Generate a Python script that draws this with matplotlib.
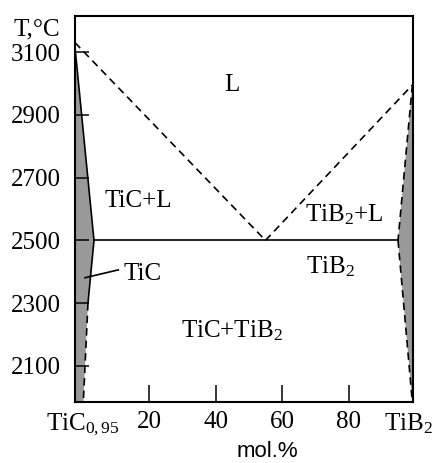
import matplotlib
matplotlib.use("Agg")
import matplotlib.pyplot as plt

plt.rcParams['font.family'] = ['Liberation Serif', 'DejaVu Serif']
plt.rcParams['mathtext.fontset'] = 'custom'
plt.rcParams['mathtext.rm'] = 'Liberation Serif'
plt.rcParams['mathtext.it'] = 'Liberation Serif:italic'
plt.rcParams['mathtext.default'] = 'rm'

# phase boundaries (composition mol.% TiB2, temperature C)
liq_left_x = [-2.2, 55.0]
liq_left_T = [3130, 2500]
liq_right_x = [55.0, 99.1]
liq_right_T = [2500, 2995]
tic_sol_x = [-2.2, 3.5]
tic_sol_T = [3115, 2500]
tic_solv_x = [3.5, 1.7]
tic_solv_T = [2500, 2300]
tic_solv_dash_x = [1.7, 0.3]
tic_solv_dash_T = [2300, 1985]
tib_sol_x = [99.1, 94.8]
tib_sol_T = [2995, 2500]
tib_solv_x = [94.8, 99.1]
tib_solv_T = [2500, 1985]
eut_x = [3.5, 94.8]
eut_T = [2500, 2500]

xlim = (-2.2, 99.3)
ylim = (1985, 3215)

yticks = [2100, 2300, 2500, 2700, 2900, 3100]
xticks = [0, 20, 40, 60, 80, 98]
xlabels = ['TiC$_{0,95}$', '20', '40', '60', '80', 'TiB$_2$']

fig = plt.figure(figsize=(4.33, 4.63), dpi=100)
ax = fig.add_axes([75/433, 61/463, 338/433, 386/463])

gray = '#999999'
dash = (0, (4.5, 3))
lw = 1.2

# single-phase regions (gray)
ax.fill(tic_sol_x + tic_solv_x[1:] + tic_solv_dash_x[1:] + [xlim[0]],
        tic_sol_T + tic_solv_T[1:] + tic_solv_dash_T[1:] + [ylim[0]],
        color=gray, lw=0)
ax.fill(tib_sol_x + tib_solv_x[1:] + [xlim[1], xlim[1]],
        tib_sol_T + tib_solv_T[1:] + [ylim[0], tib_sol_T[0]],
        color=gray, lw=0)

ax.plot(liq_left_x, liq_left_T, color='k', lw=lw, ls=dash)
ax.plot(liq_right_x, liq_right_T, color='k', lw=lw, ls=dash)
ax.plot(tic_sol_x, tic_sol_T, color='k', lw=lw)
ax.plot(tic_solv_x, tic_solv_T, color='k', lw=lw)
ax.plot(tic_solv_dash_x, tic_solv_dash_T, color='k', lw=lw, ls=dash)
ax.plot(tib_sol_x, tib_sol_T, color='k', lw=lw, ls=dash)
ax.plot(tib_solv_x, tib_solv_T, color='k', lw=lw, ls=dash)
ax.plot(eut_x, eut_T, color='k', lw=lw)

# region labels
fs = 18
ax.text(44.9, 2976, 'L', fontsize=fs, ha='center', va='baseline')
ax.text(16.7, 2605, 'TiC+L', fontsize=fs, ha='center', va='baseline')
ax.text(78.6, 2562, 'TiB$_2$+L', fontsize=fs, ha='center', va='baseline')
ax.text(74.4, 2396, 'TiB$_2$', fontsize=fs, ha='center', va='baseline')
ax.text(45.0, 2192, 'TiC+TiB$_2$', fontsize=fs, ha='center', va='baseline')
ax.text(12.5, 2373, 'TiC', fontsize=fs, ha='left', va='baseline')
ax.plot([0.8, 10.8], [2381, 2406], color='k', lw=lw)

ax.set_xlim(*xlim)
ax.set_ylim(*ylim)
ax.set_yticks(yticks)
ax.set_yticklabels([str(t) for t in yticks])
ax.set_xticks(xticks)
ax.set_xticklabels(xlabels)
ax.tick_params(axis='y', direction='in', length=10, width=1.1, pad=10.5, labelsize=fs)
ax.tick_params(axis='x', direction='in', length=12.5, width=1.1, pad=6.5, labelsize=fs)
for i in (0, len(xticks) - 1):
    ax.xaxis.get_major_ticks()[i].tick1line.set_visible(False)
for s in ax.spines.values():
    s.set_linewidth(1.5)

fig.text(60/433, 1 - 35/463, 'T,\u00b0C', fontsize=fs, ha='right', va='baseline')
fig.text(267/433, 1 - 457/463, 'mol.%', fontsize=16, ha='center', va='baseline',
         family='Liberation Sans')

fig.savefig('out.png', dpi=100)
